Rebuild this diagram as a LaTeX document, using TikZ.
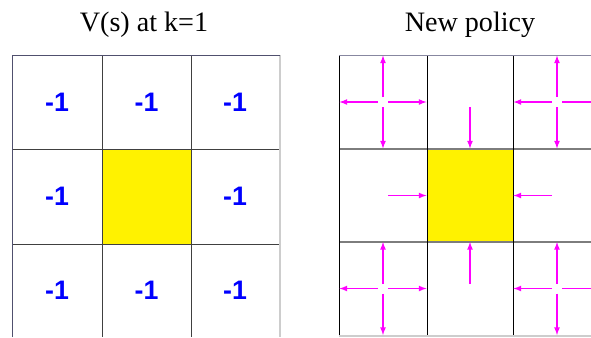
\documentclass[tikz,border=0pt]{standalone}
\usepackage{fontspec}
\setmainfont{Liberation Serif}
\newfontfamily\numfont{Liberation Sans}
\definecolor{framegray}{RGB}{80,80,110}
\definecolor{topgray}{RGB}{135,135,160}
\definecolor{edgegray}{RGB}{205,205,205}
\definecolor{linegray}{RGB}{125,125,125}
\definecolor{polmag}{RGB}{255,0,255}
\tikzset{
  vcell/.style={minimum width=2.225cm, minimum height=2.35cm, inner sep=0pt, outer sep=0pt, text=blue, font=\numfont\bfseries\fontsize{19}{19}\selectfont},
  pcell/.style={minimum width=2.175cm, minimum height=2.325cm, inner sep=0pt, outer sep=0pt},
  title/.style={anchor=base, font=\fontsize{20}{24}\selectfont},
  pol/.style={->, >=latex, polmag, line width=0.9pt, shorten <=0.125cm}
}
\begin{document}
\begin{tikzpicture}[x=0.025cm, y=-0.025cm]
\clip (0,0) rectangle (591,337);

\node[title] (vtitle) at (144,31) {V(s) at k=1};
\node[title] (ptitle) at (470,31) {New policy};

\node[vcell] (v11) at (57,102) {-1};
\node[vcell] (v12) at (146.5,102) {-1};
\node[vcell] (v13) at (235,102) {-1};
\node[vcell] (v21) at (57,196.5) {-1};
\node[vcell, fill=yellow, minimum height=2.375cm] (v22) at (146.5,196.5) {};
\node[vcell] (v23) at (235,196.5) {-1};
\node[vcell] (v31) at (57,290.5) {-1};
\node[vcell] (v32) at (146.5,290.5) {-1};
\node[vcell] (v33) at (235,290.5) {-1};

\draw[black!75, line width=0.7pt] (102,55) -- (102,337) (191,55) -- (191,337) (12,149) -- (279,149) (12,244) -- (279,244);
\draw[edgegray, line width=1.4pt] (280,55) -- (280,337);
\draw[framegray, line width=1.4pt] (12.5,337) -- (12.5,55.5) -- (280,55.5);

\node[pcell] (p11) at (383,102) {};
\node[pcell] (p12) at (470,102) {};
\node[pcell] (p13) at (557,102) {};
\node[pcell] (p21) at (383,195.5) {};
\node[pcell, fill=yellow, minimum width=2.15cm] (p22) at (470,195.5) {};
\node[pcell] (p23) at (557,195.5) {};
\node[pcell] (p31) at (383,288.5) {};
\node[pcell] (p32) at (470,288.5) {};
\node[pcell] (p33) at (557,288.5) {};

\draw[linegray, line width=1.1pt] (339,149) -- (591,149) (339,242) -- (591,242);
\draw[black, line width=0.6pt] (339.5,55) -- (339.5,335) (427,55) -- (427,335) (513,55) -- (513,335);
\draw[topgray, line width=1.4pt] (339,55.5) -- (591,55.5);
\draw[edgegray, line width=1.4pt] (339,336) -- (591,336);

\draw[pol] (p11.center) -- (p11.north);
\draw[pol] (p11.center) -- (p11.south);
\draw[pol] (p11.center) -- (p11.east);
\draw[pol] (p11.center) -- (p11.west);
\draw[pol] (p12.center) -- (p12.south);
\draw[pol] (p13.center) -- (p13.north);
\draw[pol] (p13.center) -- (p13.south);
\draw[pol] (p13.center) -- (p13.east);
\draw[pol] (p13.center) -- (p13.west);
\draw[pol] (p21.center) -- (p21.east);
\draw[pol] (p23.center) -- (p23.west);
\draw[pol] (p31.center) -- (p31.north);
\draw[pol] (p31.center) -- (p31.south);
\draw[pol] (p31.center) -- (p31.east);
\draw[pol] (p31.center) -- (p31.west);
\draw[pol] (p32.center) -- (p32.north);
\draw[pol] (p33.center) -- (p33.north);
\draw[pol] (p33.center) -- (p33.south);
\draw[pol] (p33.center) -- (p33.east);
\draw[pol] (p33.center) -- (p33.west);

\end{tikzpicture}
\end{document}
